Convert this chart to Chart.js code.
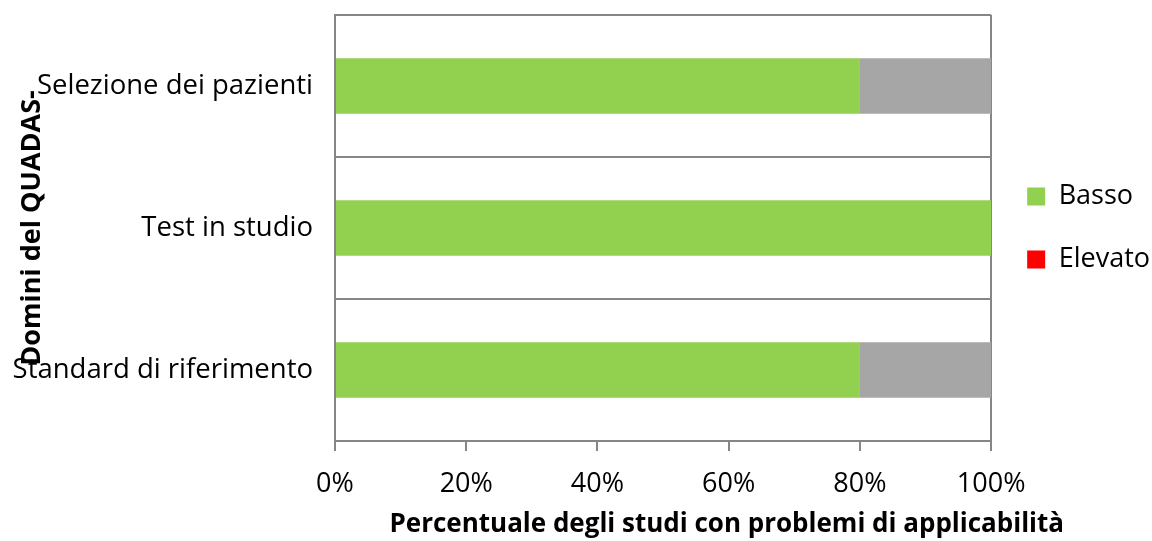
<!DOCTYPE html>
<html>
<head>
<meta charset="utf-8">
<script src="https://cdn.jsdelivr.net/npm/chart.js@4"></script>
<style>
    html, body { margin: 0; padding: 0; background: #fff; }
    #wrap { width: 1152px; height: 541px; position: relative; }
</style>
</head>
<body>
<div id="wrap"><canvas id="chart"></canvas></div>
<script>
var categories = ['Selezione dei pazienti', 'Test in studio', 'Standard di riferimento'];
var basso = [80, 100, 80];
var elevato = [0, 0, 0];
var nonChiaro = [20, 0, 20];
var xTicks = [0, 20, 40, 60, 80, 100];

var axisGrey = '#868686';
var font = "'Open Sans', sans-serif";

// x axis title sits a bit to the right of the plot centre, as in the original
var xTitlePlugin = {
    id: 'xTitle',
    afterDraw: function (chart) {
        var ctx = chart.ctx;
        var area = chart.chartArea;
        ctx.save();
        ctx.font = 'bold 26px ' + font;
        ctx.fillStyle = '#000';
        ctx.textAlign = 'center';
        ctx.textBaseline = 'middle';
        ctx.fillText('Percentuale degli studi con problemi di applicabilità',
            area.left + area.width * 0.597, chart.height - 16);
        ctx.restore();
    }
};

new Chart(document.getElementById('chart'), {
    type: 'bar',
    data: {
        labels: categories,
        datasets: [
            { label: 'Basso', data: basso, backgroundColor: '#92D050' },
            { label: 'Elevato', data: elevato, backgroundColor: '#FF0000' },
            { label: 'Non chiaro', data: nonChiaro, backgroundColor: '#A6A6A6' }
        ]
    },
    options: {
        indexAxis: 'y',
        responsive: true,
        maintainAspectRatio: false,
        animation: false,
        layout: { padding: { top: 15, left: 0, right: -8, bottom: 40 } },
        datasets: { bar: { barPercentage: 0.49, categoryPercentage: 0.8 } },
        plugins: {
            tooltip: { enabled: false },
            legend: {
                position: 'right',
                fullSize: false,
                labels: {
                    color: '#000',
                    font: { family: font, size: 27 },
                    boxWidth: 18,
                    boxHeight: 18,
                    padding: 36,
                    filter: function (item) { return item.text !== 'Non chiaro'; }
                }
            }
        },
        scales: {
            x: {
                stacked: true,
                min: 0,
                max: 100,
                afterBuildTicks: function (scale) {
                    scale.ticks = xTicks.map(function (v) { return { value: v }; });
                },
                ticks: {
                    color: '#000',
                    padding: 17,
                    font: { family: font, size: 27 },
                    callback: function (v) { return v + '%'; }
                },
                grid: {
                    drawOnChartArea: true,
                    tickLength: 10,
                    lineWidth: 2,
                    tickColor: axisGrey,
                    color: function (c) {
                        return c.tick && c.tick.value === 100 ? axisGrey : 'rgba(0,0,0,0)';
                    }
                },
                border: { color: axisGrey, width: 2 },
                afterFit: function (scale) { scale.height = 60; }
            },
            y: {
                stacked: true,
                ticks: {
                    color: '#000',
                    padding: 22,
                    font: { family: font, size: 27.5 }
                },
                grid: { drawTicks: false, color: axisGrey, lineWidth: 2 },
                border: { color: axisGrey, width: 2 },
                title: {
                    display: true,
                    text: 'Domini del QUADAS-',
                    color: '#000',
                    font: { family: font, size: 27, weight: 'bold' },
                    padding: { top: 16, bottom: 0 }
                },
                afterFit: function (scale) {
                    scale.width = 335;
                    scale.paddingTop = 0;
                    scale.paddingBottom = 0;
                }
            }
        }
    },
    plugins: [xTitlePlugin]
});
</script>
</body>
</html>
